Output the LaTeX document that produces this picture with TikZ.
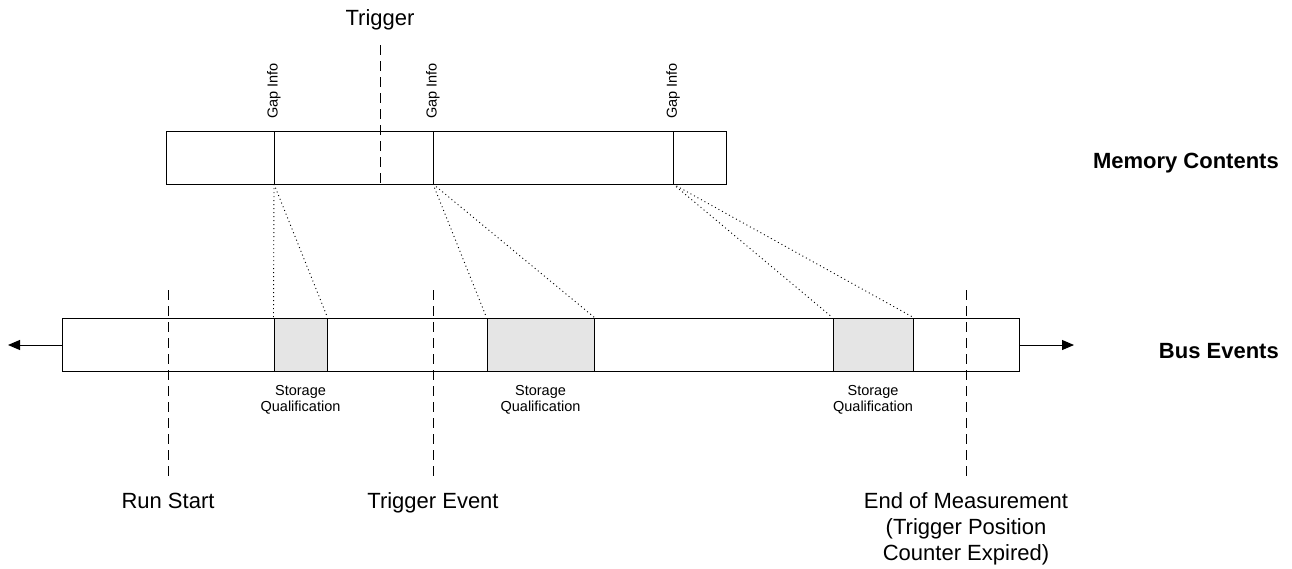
\documentclass[tikz,border=0pt]{standalone}
\usepackage{fontspec}
\setmainfont{Liberation Sans}
\usetikzlibrary{arrows.meta}
\begin{document}
\begin{tikzpicture}[x=1pt,y=-1pt,
  outline/.style={draw=black,line width=1pt},
  qual/.style={draw=black,line width=1pt,fill=black!10},
  marker/.style={draw=black,line width=0.9pt,dash pattern=on 10pt off 6pt},
  link/.style={draw=black,line width=0.9pt,dash pattern=on 1pt off 3pt},
  flow/.style={draw=black,line width=1pt,-{Triangle[length=12pt,width=10pt]}},
  smalltxt/.style={font=\fontsize{14.5}{16}\selectfont,align=center,inner sep=0pt},
  bigtxt/.style={font=\fontsize{22}{26}\selectfont,align=center,inner sep=0pt},
  rowtitle/.style={font=\fontsize{22}{26}\selectfont\bfseries,anchor=base east,inner sep=0pt}]
\useasboundingbox (0,0) rectangle (1292,568);

% memory row
\draw[outline] (166,131) rectangle (726,184);
\foreach \x/\n in {274/ga,433/gb,673/gc}{
  \draw[outline] (\x,131) -- (\x,184);
  \coordinate (\n) at (\x,184);
  \node[smalltxt,rotate=90,anchor=west] at (\x,119) {Gap Info};
}
\coordinate (trigtop) at (380,45);
\coordinate (trigbot) at (380,184);
\draw[marker] (trigtop) -- (trigbot);
\node[bigtxt,anchor=base] (trig) at (380,25) {Trigger};
\node[rowtitle] (mem) at (1279,168) {Memory Contents};

% bus events row
\draw[outline] (62,318) rectangle (1019,371);
\node[qual,minimum width=53pt,minimum height=53pt,inner sep=0pt] (qa) at (300.5,344.5) {};
\node[qual,minimum width=107pt,minimum height=53pt,inner sep=0pt] (qb) at (540.5,344.5) {};
\node[qual,minimum width=80pt,minimum height=53pt,inner sep=0pt] (qc) at (873,344.5) {};
\coordinate (busl) at (62,345);
\coordinate (busr) at (1019,345);
\coordinate (endl) at (8,345);
\coordinate (endr) at (1074,345);
\draw[flow] (busl) -- (endl);
\draw[flow] (busr) -- (endr);
\node[rowtitle] (bus) at (1279,358) {Bus Events};

% links from gap markers to qualification windows
\draw[link] (ga) -- (qa.north west);
\draw[link] (ga) -- (qa.north east);
\draw[link] (gb) -- (qb.north west);
\draw[link] (gb) -- (qb.north east);
\draw[link] (gc) -- (qc.north west);
\draw[link] (gc) -- (qc.north east);

\foreach \q in {qa,qb,qc}{
  \node[smalltxt,anchor=north] at ([yshift=-13.5pt]\q.south) {Storage\\Qualification};
}

% event markers
\foreach \x/\n in {168/rs,433/te,966/em}{
  \coordinate (\n t) at (\x,290);
  \coordinate (\n b) at (\x,481);
  \draw[marker] (\n t) -- (\n b);
}
\node[bigtxt,anchor=base] (rsl) at (168,508) {Run Start};
\node[bigtxt,anchor=base] (tel) at (433,508) {Trigger Event};
\node[bigtxt,anchor=north] (eml) at (966,492) {End of Measurement\\(Trigger Position\\Counter Expired)};
\end{tikzpicture}
\end{document}
